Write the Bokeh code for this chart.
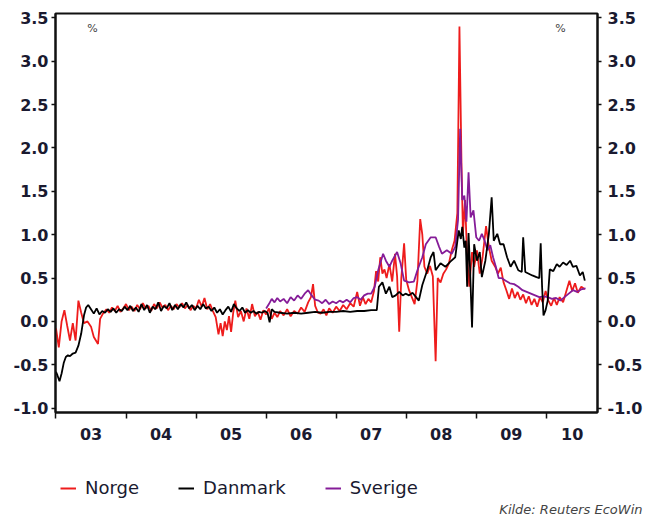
from bokeh.plotting import figure
from bokeh.layouts import column
from bokeh.models import (Range1d, LinearAxis, FixedTicker, PrintfTickFormatter,
                          Legend, LegendItem, Label)
from bokeh.embed import file_html
from bokeh.resources import INLINE

# ---------------- data ----------------
norge_t = [2003.00, 2003.04, 2003.08, 2003.12, 2003.16, 2003.20, 2003.24, 2003.28, 2003.32, 2003.36,
           2003.40, 2003.45, 2003.50, 2003.54, 2003.60, 2003.63, 2003.67, 2003.72, 2003.76, 2003.80,
           2003.84, 2003.88, 2003.92, 2003.96, 2004.00, 2004.04, 2004.08, 2004.12, 2004.16, 2004.20,
           2004.24, 2004.28, 2004.32, 2004.36, 2004.40, 2004.44, 2004.48, 2004.52, 2004.56, 2004.60,
           2004.64, 2004.68, 2004.72, 2004.76, 2004.80, 2004.84, 2004.88, 2004.92, 2004.96, 2005.00,
           2005.04, 2005.08, 2005.12, 2005.16, 2005.20, 2005.24, 2005.28, 2005.32, 2005.35, 2005.38,
           2005.41, 2005.44, 2005.47, 2005.50, 2005.53, 2005.56, 2005.60, 2005.64, 2005.68, 2005.72,
           2005.76, 2005.80, 2005.84, 2005.88, 2005.92, 2005.96, 2006.00, 2006.04, 2006.08, 2006.12,
           2006.16, 2006.20, 2006.25, 2006.30, 2006.35, 2006.40, 2006.45, 2006.50, 2006.55, 2006.60,
           2006.64, 2006.67, 2006.70, 2006.74, 2006.78, 2006.82, 2006.86, 2006.90, 2006.95, 2007.00,
           2007.05, 2007.10, 2007.15, 2007.20, 2007.25, 2007.30, 2007.34, 2007.38, 2007.42, 2007.46,
           2007.50, 2007.54, 2007.57, 2007.60, 2007.63, 2007.66, 2007.69, 2007.72, 2007.76, 2007.80,
           2007.84, 2007.87, 2007.90, 2007.93, 2007.97, 2008.00, 2008.04, 2008.08, 2008.12, 2008.16,
           2008.20, 2008.23, 2008.26, 2008.30, 2008.34, 2008.38, 2008.42, 2008.45, 2008.49, 2008.53,
           2008.57, 2008.61, 2008.65, 2008.69, 2008.73, 2008.76, 2008.79, 2008.81, 2008.84, 2008.87,
           2008.90, 2008.94, 2008.97, 2009.01, 2009.05, 2009.09, 2009.14, 2009.18, 2009.22, 2009.27,
           2009.31, 2009.35, 2009.39, 2009.43, 2009.47, 2009.51, 2009.55, 2009.59, 2009.63, 2009.67,
           2009.71, 2009.75, 2009.79, 2009.83, 2009.87, 2009.91, 2009.95, 2009.99, 2010.03, 2010.07,
           2010.11, 2010.15, 2010.19, 2010.24, 2010.29, 2010.33, 2010.37, 2010.41, 2010.45, 2010.50,
           2010.55]
norge_v = [-0.08, -0.30, 0.00, 0.13, -0.05, -0.22, -0.02, -0.22, 0.24, 0.10,
           -0.02, 0.00, -0.06, -0.18, -0.26, 0.03, 0.09, 0.14, 0.10, 0.16,
           0.12, 0.18, 0.11, 0.15, 0.20, 0.13, 0.17, 0.12, 0.19, 0.14,
           0.21, 0.15, 0.18, 0.12, 0.20, 0.15, 0.22, 0.16, 0.19, 0.13,
           0.18, 0.14, 0.20, 0.16, 0.21, 0.15, 0.19, 0.13, 0.18, 0.15,
           0.25, 0.17, 0.27, 0.14, 0.20, 0.12, 0.05, -0.15, -0.02, -0.17,
           0.00, -0.10, 0.06, -0.12, 0.10, 0.24, 0.05, 0.12, 0.00, 0.15,
           0.03, 0.20, 0.06, 0.11, 0.02, 0.13, 0.08, 0.15, 0.03, 0.10,
           0.05, 0.12, 0.07, 0.14, 0.06, 0.12, 0.09, 0.16, 0.11, 0.22,
           0.28, 0.43, 0.18, 0.10, 0.09, 0.14, 0.07, 0.15, 0.10, 0.17,
           0.12, 0.19, 0.14, 0.21, 0.17, 0.34, 0.18, 0.28, 0.20, 0.26,
           0.22, 0.35, 0.58, 0.46, 0.74, 0.55, 0.60, 0.50, 0.66, 0.46,
           0.78, 0.52, -0.12, 0.50, 0.90, 0.48, 0.36, 0.28, 0.20, 0.47,
           1.18, 1.00, 0.63, 0.55, 0.64, 0.52, -0.46, 0.50, 0.45, 0.55,
           0.60, 0.67, 0.82, 0.93, 1.25, 3.40, 1.78, 1.01, 1.40, 0.74,
           0.40, 0.80, 0.63, 0.82, 0.55, 0.74, 1.10, 0.86, 0.70, 0.63,
           0.55, 0.62, 0.45, 0.36, 0.26, 0.38, 0.27, 0.34, 0.25, 0.31,
           0.21, 0.29, 0.19, 0.26, 0.17, 0.28, 0.22, 0.35, 0.24, 0.18,
           0.27, 0.19, 0.28, 0.22, 0.36, 0.47, 0.35, 0.44, 0.33, 0.40,
           0.37]

danmark_t = [2003.00, 2003.02, 2003.05, 2003.08, 2003.11, 2003.14, 2003.17, 2003.20, 2003.24, 2003.28,
             2003.32, 2003.36, 2003.40, 2003.43, 2003.46, 2003.50, 2003.54, 2003.58, 2003.62, 2003.66,
             2003.70, 2003.74, 2003.78, 2003.82, 2003.86, 2003.90, 2003.94, 2003.98, 2004.02, 2004.06,
             2004.10, 2004.14, 2004.18, 2004.22, 2004.26, 2004.30, 2004.34, 2004.38, 2004.42, 2004.46,
             2004.50, 2004.54, 2004.58, 2004.62, 2004.66, 2004.70, 2004.74, 2004.78, 2004.82, 2004.86,
             2004.90, 2004.94, 2004.98, 2005.02, 2005.06, 2005.10, 2005.14, 2005.18, 2005.22, 2005.26,
             2005.30, 2005.34, 2005.38, 2005.42, 2005.46, 2005.50, 2005.54, 2005.58, 2005.62, 2005.66,
             2005.70, 2005.74, 2005.78, 2005.82, 2005.86, 2005.90, 2005.94, 2005.98, 2006.02, 2006.05,
             2006.08, 2006.12, 2006.20, 2006.30, 2006.40, 2006.50, 2006.60, 2006.70, 2006.80, 2006.90,
             2007.00, 2007.10, 2007.20, 2007.30, 2007.40, 2007.50, 2007.58, 2007.61, 2007.66, 2007.71,
             2007.76, 2007.80, 2007.85, 2007.90, 2007.95, 2007.99, 2008.04, 2008.09, 2008.14, 2008.18,
             2008.23, 2008.30, 2008.35, 2008.39, 2008.42, 2008.49, 2008.56, 2008.63, 2008.70, 2008.75,
             2008.78, 2008.80, 2008.83, 2008.85, 2008.87, 2008.89, 2008.91, 2008.94, 2008.97, 2009.01,
             2009.05, 2009.08, 2009.13, 2009.18, 2009.22, 2009.25, 2009.30, 2009.34, 2009.39, 2009.44,
             2009.49, 2009.54, 2009.60, 2009.65, 2009.67, 2009.70, 2009.75, 2009.80, 2009.86, 2009.90,
             2009.92, 2009.94, 2009.96, 2009.99, 2010.02, 2010.05, 2010.10, 2010.15, 2010.19, 2010.24,
             2010.29, 2010.34, 2010.38, 2010.43, 2010.48, 2010.52, 2010.55]
danmark_v = [-0.58, -0.62, -0.69, -0.60, -0.48, -0.41, -0.39, -0.40, -0.37, -0.36,
             -0.28, -0.14, 0.07, 0.16, 0.19, 0.14, 0.09, 0.15, 0.08, 0.12,
             0.10, 0.14, 0.11, 0.15, 0.10, 0.14, 0.12, 0.17, 0.13, 0.18,
             0.12, 0.16, 0.11, 0.20, 0.13, 0.19, 0.10, 0.17, 0.14, 0.22,
             0.12, 0.18, 0.15, 0.21, 0.13, 0.19, 0.14, 0.20, 0.16, 0.22,
             0.15, 0.19, 0.13, 0.18, 0.14, 0.20, 0.15, 0.17, 0.12, 0.16,
             0.10, 0.14, 0.08, 0.13, 0.17, 0.11, 0.20, 0.15, 0.12, 0.16,
             0.10, 0.13, 0.10, 0.12, 0.09, 0.11, 0.10, 0.12, 0.10, -0.01,
             0.14, 0.11, 0.10, 0.09, 0.10, 0.09, 0.10, 0.11, 0.10, 0.11,
             0.11, 0.12, 0.11, 0.12, 0.12, 0.13, 0.13, 0.40, 0.45, 0.32,
             0.40, 0.28, 0.30, 0.34, 0.30, 0.32, 0.30, 0.33, 0.28, 0.24,
             0.42, 0.59, 0.74, 0.80, 0.59, 0.67, 0.63, 0.69, 0.74, 1.05,
             0.95, 1.09, 0.85, 0.93, 0.40, 1.02, 0.63, -0.07, 0.89, 0.70,
             0.80, 0.51, 0.70, 1.01, 1.43, 0.93, 1.01, 0.89, 0.89, 0.74,
             0.63, 0.70, 0.59, 0.57, 0.97, 0.57, 0.55, 0.53, 0.51, 0.50,
             0.90, 0.40, 0.07, 0.13, 0.24, 0.60, 0.58, 0.66, 0.63, 0.68,
             0.65, 0.70, 0.63, 0.64, 0.53, 0.57, 0.47]

sverige_t = [2006.00, 2006.04, 2006.08, 2006.12, 2006.16, 2006.20, 2006.25, 2006.30, 2006.35, 2006.40,
             2006.45, 2006.50, 2006.55, 2006.60, 2006.65, 2006.70, 2006.75, 2006.80, 2006.85, 2006.90,
             2006.95, 2007.00, 2007.05, 2007.10, 2007.15, 2007.20, 2007.25, 2007.30, 2007.35, 2007.40,
             2007.45, 2007.50, 2007.55, 2007.60, 2007.67, 2007.71, 2007.76, 2007.80, 2007.87, 2007.92,
             2007.97, 2008.04, 2008.11, 2008.16, 2008.23, 2008.28, 2008.35, 2008.42, 2008.47, 2008.51,
             2008.58, 2008.65, 2008.70, 2008.74, 2008.77, 2008.80, 2008.83, 2008.86, 2008.89, 2008.92,
             2008.96, 2009.00, 2009.04, 2009.08, 2009.12, 2009.16, 2009.20, 2009.24, 2009.28, 2009.32,
             2009.36, 2009.42, 2009.48, 2009.54, 2009.60, 2009.66, 2009.72, 2009.78, 2009.84, 2009.90,
             2009.96, 2010.02, 2010.08, 2010.14, 2010.20, 2010.26, 2010.32, 2010.38, 2010.44, 2010.50,
             2010.56]
sverige_v = [0.15, 0.20, 0.26, 0.22, 0.27, 0.23, 0.26, 0.21, 0.28, 0.24,
             0.30, 0.26, 0.32, 0.36, 0.30, 0.25, 0.24, 0.21, 0.25, 0.20,
             0.23, 0.21, 0.24, 0.22, 0.25, 0.22, 0.27, 0.28, 0.25, 0.30,
             0.32, 0.32, 0.40, 0.59, 0.78, 0.70, 0.63, 0.70, 0.80, 0.67,
             0.47, 0.45, 0.46, 0.59, 0.74, 0.89, 0.97, 0.97, 0.86, 0.78,
             0.82, 0.78, 0.86, 1.17, 2.22, 1.40, 1.45, 1.15, 1.72, 1.20,
             1.28, 0.97, 0.93, 1.01, 0.93, 0.82, 0.88, 0.74, 0.63, 0.50,
             0.50, 0.47, 0.44, 0.43, 0.40, 0.36, 0.34, 0.32, 0.30, 0.28,
             0.29, 0.28, 0.26, 0.27, 0.24, 0.28, 0.32, 0.36, 0.34, 0.37,
             0.38]

y_ticks = [-1.0, -0.5, 0.0, 0.5, 1.0, 1.5, 2.0, 2.5, 3.0, 3.5]
year_starts = [2003, 2004, 2005, 2006, 2007, 2008, 2009, 2010]
year_label_pos = [2003.5, 2004.5, 2005.5, 2006.5, 2007.5, 2008.5, 2009.5, 2010.37]
year_labels = ["03", "04", "05", "06", "07", "08", "09", "10"]

series_names = ["Norge", "Danmark", "Sverige"]
series_colors = ["#ee1c1c", "#000000", "#851c98"]
series_t = [norge_t, danmark_t, sverige_t]
series_v = [norge_v, danmark_v, sverige_v]
source_text = "Kilde: Reuters EcoWin"

# ---------------- main chart ----------------
TXT = "#1a1a30"
FONT = "DejaVu Sans"

p = figure(width=645, height=460, output_backend="svg", toolbar_location=None,
           x_range=Range1d(2002.993, 2010.731), y_range=Range1d(-1.05, 3.55),
           min_border_left=55, min_border_right=46, min_border_top=13, min_border_bottom=48,
           background_fill_color="white", border_fill_color="white")
p.frame_align = False
p.xgrid.visible = False
p.ygrid.visible = False
p.outline_line_color = "#111111"
p.outline_line_width = 2

# draw order: Norge, Sverige, Danmark (black on top)
for i in (0, 2, 1):
    p.line(series_t[i], series_v[i], line_color=series_colors[i], line_width=1.8)


def style_y(ax):
    ax.ticker = FixedTicker(ticks=y_ticks)
    ax.formatter = PrintfTickFormatter(format="%.1f")
    ax.major_tick_out = 4
    ax.major_tick_in = 0
    ax.minor_tick_out = 0
    ax.minor_tick_in = 0
    ax.axis_line_color = "#111111"
    ax.axis_line_width = 2
    ax.major_tick_line_color = "#111111"
    ax.major_tick_line_width = 1.5
    ax.major_label_text_font = FONT
    ax.major_label_text_font_style = "bold"
    ax.major_label_text_font_size = "16px"
    ax.major_label_text_color = TXT


style_y(p.yaxis[0])
p.yaxis[0].major_label_standoff = 3
right_axis = LinearAxis()
style_y(right_axis)
right_axis.major_label_standoff = 6
p.add_layout(right_axis, "right")

xa = p.xaxis[0]
xa.ticker = FixedTicker(ticks=year_label_pos, minor_ticks=year_starts)
xa.major_label_overrides = {pos: lab for pos, lab in zip(year_label_pos, year_labels)}
xa.major_tick_out = 0
xa.major_tick_in = 0
xa.minor_tick_out = 6
xa.minor_tick_in = 0
xa.minor_tick_line_color = "#111111"
xa.minor_tick_line_width = 1.5
xa.axis_line_color = "#111111"
xa.axis_line_width = 2
xa.major_label_standoff = 9
xa.major_label_text_font = FONT
xa.major_label_text_font_style = "bold"
xa.major_label_text_font_size = "16px"
xa.major_label_text_color = TXT

# "%" unit labels inside the frame
for px in (37, 505):
    p.add_layout(Label(x=px, y=384, x_units="screen", y_units="screen", text="%",
                       text_align="center", text_baseline="middle",
                       text_font=FONT, text_font_size="11px", text_color="#444444"))

# ---------------- legend + source strip ----------------
p2 = figure(width=645, height=58, output_backend="svg", toolbar_location=None,
            x_range=Range1d(0, 1), y_range=Range1d(0, 1),
            min_border_left=0, min_border_right=0, min_border_top=0, min_border_bottom=0,
            background_fill_color="white", border_fill_color="white")
p2.frame_align = False
p2.axis.visible = False
p2.grid.visible = False
p2.outline_line_color = None

# legend keys: same series, lying outside this strip's ranges so only the keys show
lg = [p2.line(series_t[i], series_v[i], line_color=series_colors[i], line_width=2)
      for i in range(3)]
legend = Legend(items=[LegendItem(label=n, renderers=[r]) for n, r in zip(series_names, lg)],
                orientation="horizontal", location=(60, 20),
                border_line_color=None, background_fill_alpha=0,
                padding=0, margin=0, spacing=39, glyph_width=16, glyph_height=16,
                label_standoff=9, label_text_font=FONT, label_text_font_size="18px",
                label_text_color=TXT)
p2.add_layout(legend)

p2.add_layout(Label(x=642, y=9, x_units="screen", y_units="screen",
                    text=source_text, text_align="right", text_baseline="middle",
                    text_font=FONT, text_font_style="italic", text_font_size="13px",
                    text_color="#444444"))

layout = column(p, p2, spacing=0)
open("out.html", "w").write(file_html(layout, INLINE))
